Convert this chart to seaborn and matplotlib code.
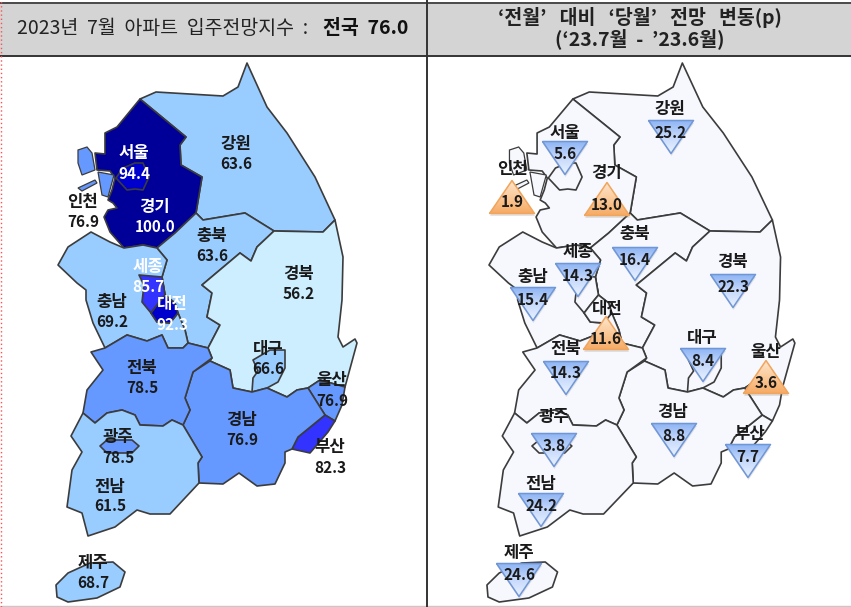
#!/usr/bin/env python3

import matplotlib
matplotlib.use("Agg")
import matplotlib.pyplot as plt
import numpy as np
import pandas as pd
import seaborn as sns
from matplotlib.colors import LinearSegmentedColormap
from matplotlib.patches import Polygon

# region order used by every list below
regions = ['서울', '경기', '인천', '강원', '충북', '세종', '충남', '대전', '경북', '대구',
           '울산', '전북', '경남', '부산', '광주', '전남', '제주']
index_values = ['94.4', '100.0', '76.9', '63.6', '63.6', '85.7', '69.2', '92.3', '56.2', '66.6',
                '76.9', '78.5', '76.9', '82.3', '78.5', '61.5', '68.7']
change_values = ['5.6', '13.0', '1.9', '25.2', '16.4', '14.3', '15.4', '11.6', '22.3', '8.4',
                 '3.6', '14.3', '8.8', '7.7', '3.8', '24.2', '24.6']
change_dirs = ['down', 'up', 'up', 'down', 'down', 'down', 'down', 'up', 'down', 'down',
               'up', 'down', 'down', 'down', 'down', 'down', 'down']

# region outlines, in image pixels
outlines = {
    '강원': [(140,99),(156,92),(223,96),(238,87),(247,63),(267,107),(287,133),(315,177),(335,220),
             (323,232),(274,231),(245,213),(203,220),(196,213),(202,177),(181,165),(180,145),(186,137)],
    '경기': [(140,99),(186,137),(180,145),(181,165),(202,177),(196,213),(175,233),(157,248),(143,245),
             (124,248),(110,232),(104,217),(108,210),(117,208),(113,203),(108,200),(112,190),(115,178),
             (110,171),(97,170),(95,153),(105,154),(105,133),(117,127)],
    '서울': [(116,178),(123,168),(135,163),(143,163),(149,177),(143,190),(135,189),(127,190)],
    '충북': [(175,233),(196,213),(203,220),(245,213),(274,231),(257,247),(251,261),(240,253),(202,285),
             (212,293),(207,317),(220,325),(208,348),(188,343),(185,330),(178,313),(175,303),(165,295),
             (162,277),(167,260),(157,248)],
    '충남': [(58,265),(68,247),(91,232),(110,242),(124,248),(143,245),(157,248),(167,260),(162,277),
             (165,295),(157,305),(151,313),(157,322),(170,323),(178,313),(185,330),(188,343),(183,348),
             (168,348),(162,335),(147,341),(127,335),(105,348),(93,323),(86,300),(86,290),(77,283)],
    '세종': [(139,275),(162,277),(165,295),(157,305),(151,313),(142,302),(144,285)],
    '대전': [(165,295),(175,303),(178,313),(170,323),(157,322),(151,313),(157,305)],
    '경북': [(335,220),(343,257),(342,300),(338,337),(343,347),(355,339),(357,343),(345,387),(320,380),
             (308,388),(297,390),(287,397),(267,388),(252,392),(233,388),(230,370),(210,361),(212,358),
             (208,348),(220,325),(207,317),(212,293),(202,285),(240,253),(251,261),(257,247),(274,231),(323,232)],
    '대구': [(252,392),(253,378),(258,371),(253,360),(270,350),(285,350),(285,368),(278,382),(267,388)],
    '울산': [(308,388),(320,380),(345,387),(342,405),(335,421),(325,415)],
    '부산': [(325,415),(335,421),(328,432),(310,453),(292,449),(298,437)],
    '경남': [(210,361),(230,370),(233,388),(252,392),(267,388),(287,397),(297,390),(308,388),(325,415),
             (298,437),(292,449),(285,452),(285,463),(275,484),(257,486),(239,473),(223,484),(199,483),
             (198,463),(202,457),(183,425),(190,410),(185,398),(193,372)],
    '전북': [(91,352),(105,348),(127,335),(147,341),(162,335),(168,348),(183,348),(188,343),(208,348),
             (212,358),(193,372),(185,398),(190,410),(183,425),(172,420),(163,426),(140,425),(135,415),
             (122,410),(107,413),(95,423),(83,413),(87,390),(103,370)],
    '전남': [(83,413),(95,423),(107,413),(122,410),(135,415),(140,425),(163,426),(172,420),(183,425),
             (202,457),(198,463),(199,483),(170,514),(150,514),(137,510),(115,527),(88,536),(82,513),
             (67,507),(72,470),(82,452),(71,436)],
    '광주': [(100,446),(107,440),(132,440),(139,446),(132,453),(107,453)],
    '제주': [(56,585),(68,573),(90,563),(113,562),(125,572),(120,587),(97,598),(68,602),(57,597)],
}
incheon_parts = [
    [(78,150),(87,147),(92,153),(95,170),(82,175),(78,163)],
    [(78,188),(95,180),(97,183),(82,191)],
    [(98,172),(114,175),(108,197),(102,195)],
]

# label positions (name and value) on the left map
left_x = [134, 155, 83, 236, 212, 148, 112, 172, 299, 268, 332, 142, 242, 330, 118, 110, 93]
left_name_y = [153, 207, 202, 144, 236, 267, 302, 304, 274, 349, 380, 368, 420, 447, 437, 487, 563]
left_value_y = [174, 227, 222, 164, 256, 287, 322, 325, 294, 369, 401, 388, 440, 468, 458, 506, 583]
white_labels = ['서울', '경기', '세종', '대전']

# triangle centres and labels on the right map
tri_x = [565, 607, 512, 671, 635, 578, 533, 606, 733, 703, 766, 566, 674, 748, 554, 541, 519]
tri_y = [158, 199, 197, 137, 264, 280, 304, 333, 291, 365, 377, 378, 440, 461, 450, 510, 580]
right_name_x = [565, 607, 513, 670, 635, 578, 533, 607, 733, 702, 766, 566, 673, 750, 554, 541, 519]
right_name_y = [133, 173, 169, 109, 234, 252, 277, 309, 262, 338, 352, 349, 412, 434, 417, 484, 553]
right_value_y = [154, 205, 202, 133, 260, 276, 300, 339, 287, 361, 383, 373, 436, 457, 446, 506, 575]

TRI_W, TRI_H = 45, 33
EDGE = '#3c3c3c'


def index_color(value):
    value = float(value)
    if value >= 100:
        return '#000099'
    if value >= 90:
        return '#0000cc'
    if value >= 80:
        return '#3333ff'
    if value >= 70:
        return '#6699ff'
    if value >= 60:
        return '#99ccff'
    return '#cceeff'


def to_right(points):
    return [(489 + (x - 58) * 1.023, y) for x, y in points]


def draw_map(ax, colors, shift=False):
    for name, points in outlines.items():
        pts = to_right(points) if shift else points
        ax.add_patch(Polygon(pts, closed=True, facecolor=colors[name], edgecolor=EDGE,
                             linewidth=1.2, joinstyle='round', zorder=2))
    for points in incheon_parts:
        pts = to_right(points) if shift else points
        ax.add_patch(Polygon(pts, closed=True, facecolor=colors['인천'], edgecolor=EDGE,
                             linewidth=0.9, zorder=2))


def draw_triangles(ax, df):
    half_w, half_h = TRI_W / 2, TRI_H / 2
    grad = np.linspace(0, 1, 64).reshape(-1, 1)
    down_cmap = LinearSegmentedColormap.from_list('down', ['#8db4f4', '#c6d9fb', '#e8f1ff'])
    up_cmap = LinearSegmentedColormap.from_list('up', ['#fde6cf', '#fbcb9b', '#f6ab66'])

    for _, row in df.iterrows():
        x, y = row['x'], row['y']
        if row['dir'] == 'down':
            verts = [(x - half_w, y - half_h), (x + half_w, y - half_h), (x, y + half_h)]
            cmap = down_cmap
        else:
            verts = [(x - half_w, y + half_h), (x + half_w, y + half_h), (x, y - half_h)]
            cmap = up_cmap
        img = ax.imshow(grad, cmap=cmap, aspect='auto', zorder=4,
                        extent=(x - half_w, x + half_w, y + half_h, y - half_h))
        img.set_clip_path(Polygon(verts, closed=True, transform=ax.transData))

    # outlines go through seaborn, one marker per direction
    marks = {'down': ([(-1, 0.733), (1, 0.733), (0, -0.733), (-1, 0.733)], '#6f96d6'),
             'up': ([(-1, -0.733), (1, -0.733), (0, 0.733), (-1, -0.733)], '#f0a45c')}
    size = (TRI_W * 0.72) ** 2
    for direction, (verts, edge) in marks.items():
        part = df[df['dir'] == direction]
        sns.scatterplot(data=part.assign(y=part['y'] + 2), x='x', y='y', marker=verts, s=size,
                        color='#888888', alpha=0.22, linewidth=0, legend=False, ax=ax, zorder=3)
        sns.scatterplot(data=part, x='x', y='y', marker=verts, s=size, color=edge,
                        edgecolor=edge, linewidth=1.1, legend=False, ax=ax, zorder=5)
        ax.collections[-1].set_facecolor('none')


def main():
    sns.set_theme(style='white')
    plt.rcParams['font.family'] = ['Noto Sans CJK KR', 'DejaVu Sans']

    fig = plt.figure(figsize=(8.51, 6.07), dpi=100)
    ax = fig.add_axes([0, 0, 1, 1])

    # header band and table rules
    ax.axhspan(2, 55, facecolor='#d4d4d4', edgecolor='none', zorder=1)
    ax.axhline(2.5, color='#333333', lw=1.2, zorder=6)
    ax.axhline(55.5, color='#333333', lw=1.4, zorder=6)
    ax.axvline(426.5, color='#333333', lw=1.4, zorder=6)
    ax.axhline(606, color='#c8c8c8', lw=1, zorder=1)
    ax.axvline(0.5, color='#ff5050', lw=1, ls=(0, (1, 2)), zorder=6)

    left_colors = {name: index_color(v) for name, v in zip(regions, index_values)}
    right_colors = {name: '#f6f8fd' for name in regions}
    draw_map(ax, left_colors)
    draw_map(ax, right_colors, shift=True)

    tri_df = pd.DataFrame({'x': tri_x, 'y': tri_y, 'dir': change_dirs})
    draw_triangles(ax, tri_df)

    name_kw = dict(ha='center', va='center', fontsize=12, fontweight='bold', zorder=7)
    value_kw = dict(ha='center', va='center', fontsize=11, fontweight='bold', zorder=7)
    for i, name in enumerate(regions):
        color = 'white' if name in white_labels else '#1a1a1a'
        ax.text(left_x[i], left_name_y[i], name, color=color, **name_kw)
        ax.text(left_x[i], left_value_y[i], index_values[i], color=color, **value_kw)
        ax.text(right_name_x[i], right_name_y[i], name, color='#1a1a1a', **name_kw)
        ax.text(tri_x[i], right_value_y[i], change_values[i], color='#1a1a1a', **value_kw)

    ax.text(17, 28, '2023년  7월  아파트  입주전망지수  :', ha='left', va='center',
            fontsize=14, color='#222222', zorder=7)
    ax.text(323, 28, '전국  76.0', ha='left', va='center', fontsize=14,
            fontweight='bold', color='#111111', zorder=7)
    ax.text(640, 18, '‘전월’   대비   ‘당월’   전망   변동(p)', ha='center', va='center',
            fontsize=14, fontweight='bold', color='#222222', zorder=7)
    ax.text(640, 39, '(‘23.7월  -  ’23.6월)', ha='center', va='center',
            fontsize=14, fontweight='bold', color='#222222', zorder=7)

    ax.set_xlim(0, 851)
    ax.set_ylim(607, 0)
    ax.axis('off')
    fig.savefig('out.png', dpi=100, facecolor='white')
    plt.close(fig)


if __name__ == "__main__":
    main()
